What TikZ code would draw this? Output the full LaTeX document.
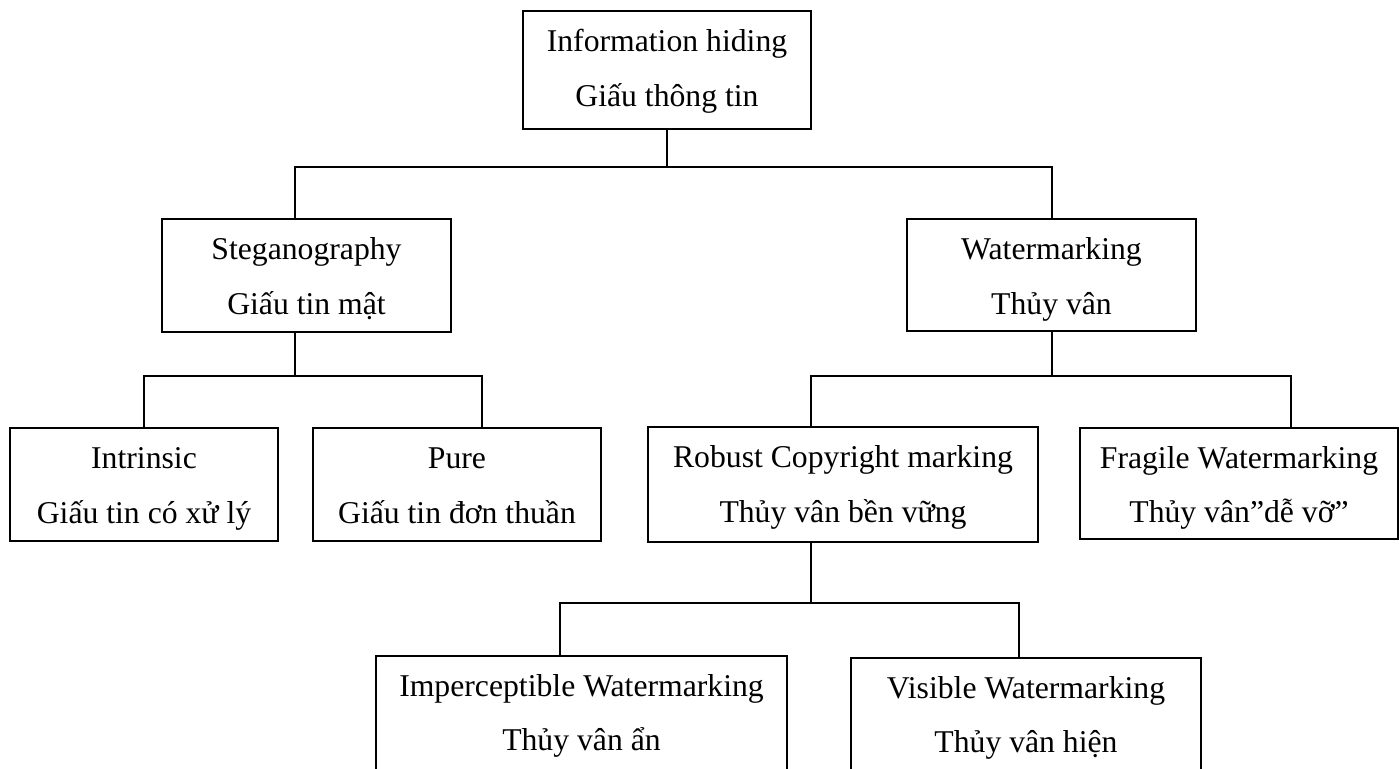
\documentclass[tikz,border=0pt]{standalone}
\usepackage{fontspec}
\setmainfont{Liberation Serif}
\begin{document}
\begin{tikzpicture}[x=0.5pt,y=-0.5pt,
  box/.style={draw, line width=1pt, inner sep=0pt, outer sep=0pt, anchor=north west},
  lbl/.style={anchor=base, inner sep=0pt, font=\fontsize{15.85}{19}\selectfont},
  link/.style={line width=1pt}]
\useasboundingbox (0,0) rectangle (1399,769);
\fill[white] (0,0) rectangle (1399,769);
\clip (0,0) rectangle (1399,769);
% boxes
\node[box, minimum width=144pt, minimum height=59pt] (info) at (523,11) {};
\node[box, minimum width=144.5pt, minimum height=56.5pt] (steg) at (162,219) {};
\node[box, minimum width=144.5pt, minimum height=56pt] (water) at (907,219) {};
\node[box, minimum width=134pt, minimum height=56.5pt] (intr) at (10,428) {};
\node[box, minimum width=144pt, minimum height=56.5pt] (pure) at (313,428) {};
\node[box, minimum width=195pt, minimum height=57.5pt] (robust) at (648,427) {};
\node[box, minimum width=159pt, minimum height=55.5pt] (fragile) at (1080,428) {};
\node[box, minimum width=205.5pt, minimum height=65pt] (imper) at (376,656) {};
\node[box, minimum width=175pt, minimum height=65pt] (visible) at (851,658) {};
% labels
\node[lbl] (info1) at ([yshift=-20.5pt]info.north) {Information hiding};
\node[lbl] (info2) at ([yshift=-48pt]info.north) {Giấu thông tin};
\node[lbl] (steg1) at ([yshift=-20.5pt]steg.north) {Steganography};
\node[lbl] (steg2) at ([yshift=-48pt]steg.north) {Giấu tin mật};
\node[lbl] (water1) at ([yshift=-20.5pt]water.north) {Watermarking};
\node[lbl] (water2) at ([yshift=-48pt]water.north) {Thủy vân};
\node[lbl] (intr1) at ([yshift=-20.25pt]intr.north) {Intrinsic};
\node[lbl] (intr2) at ([yshift=-47.75pt]intr.north) {Giấu tin có xử lý};
\node[lbl] (pure1) at ([yshift=-20.25pt]pure.north) {Pure};
\node[lbl] (pure2) at ([yshift=-47.75pt]pure.north) {Giấu tin đơn thuần};
\node[lbl] (robust1) at ([yshift=-20.25pt]robust.north) {Robust Copyright marking};
\node[lbl] (robust2) at ([yshift=-48pt]robust.north) {Thủy vân bền vững};
\node[lbl] (fragile1) at ([yshift=-20.25pt]fragile.north) {Fragile Watermarking};
\node[lbl] (fragile2) at ([yshift=-47.5pt]fragile.north) {Thủy vân”dễ vỡ”};
\node[lbl] (imper1) at ([yshift=-20.25pt]imper.north) {Imperceptible Watermarking};
\node[lbl] (imper2) at ([yshift=-47.5pt]imper.north) {Thủy vân ẩn};
\node[lbl] (visible1) at ([yshift=-20.25pt]visible.north) {Visible Watermarking};
\node[lbl] (visible2) at ([yshift=-47.5pt]visible.north) {Thủy vân hiện};
% junctions
\coordinate (jA) at (667,167);
\coordinate (jB) at (295,376);
\coordinate (jC) at (1052,376);
\coordinate (jD) at (811,603);
% connectors
\draw[link] (jA |- info.south) -- (jA);
\draw[link] (jB |- steg.north) |- (jA) -| (jC |- water.north);
\draw[link] (jB |- steg.south) -- (jB);
\draw[link] (intr.north) |- (jB) -| ([xshift=12.5pt]pure.north);
\draw[link] (jC |- water.south) -- (jC);
\draw[link] (jD |- robust.north) |- (jC) -| ([xshift=26pt]fragile.north);
\draw[link] (jD |- robust.south) -- (jD);
\draw[link] ([xshift=-10.75pt]imper.north) |- (jD) -| ([xshift=-3.5pt]visible.north);
\end{tikzpicture}
\end{document}
